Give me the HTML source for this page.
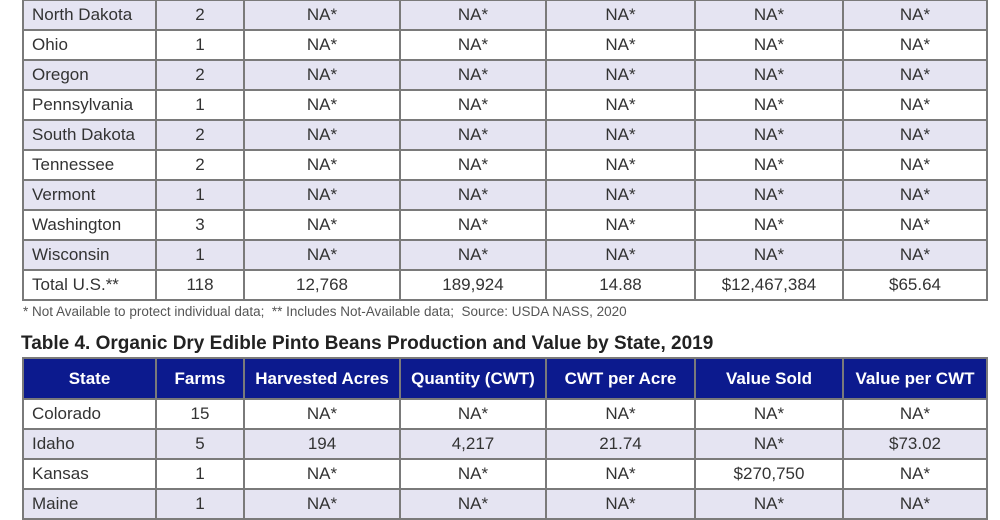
<!DOCTYPE html><html><head><style>
body{margin:0;width:1000px;height:500px;overflow:hidden;background:#fff;font-family:"Liberation Sans",sans-serif;color:#333;position:relative}
table{position:absolute;left:22px;border-collapse:collapse;table-layout:fixed;width:964px}
td,th{border:2px solid #7a7a7a;height:28px;padding:0;text-align:center;font-size:17px;white-space:nowrap;overflow:hidden}
td:first-child{text-align:left;padding-left:8px}
tr.a td{background:#e5e4f2}
th{background:#0c1a8e;color:#fff;font-weight:bold;height:39px;font-size:17px}
.fn{position:absolute;left:23px;top:304px;font-size:13.5px;color:#555}
.tt{position:absolute;left:21px;top:333px;font-size:19px;font-weight:bold;color:#222}
</style></head><body>
<table style="top:-1px">
<colgroup><col style="width:133px"><col style="width:88px"><col style="width:156px"><col style="width:146px"><col style="width:149px"><col style="width:148px"><col style="width:144px"></colgroup>
<tr class="a"><td>North Dakota</td><td>2</td><td>NA*</td><td>NA*</td><td>NA*</td><td>NA*</td><td>NA*</td></tr>
<tr><td>Ohio</td><td>1</td><td>NA*</td><td>NA*</td><td>NA*</td><td>NA*</td><td>NA*</td></tr>
<tr class="a"><td>Oregon</td><td>2</td><td>NA*</td><td>NA*</td><td>NA*</td><td>NA*</td><td>NA*</td></tr>
<tr><td>Pennsylvania</td><td>1</td><td>NA*</td><td>NA*</td><td>NA*</td><td>NA*</td><td>NA*</td></tr>
<tr class="a"><td>South Dakota</td><td>2</td><td>NA*</td><td>NA*</td><td>NA*</td><td>NA*</td><td>NA*</td></tr>
<tr><td>Tennessee</td><td>2</td><td>NA*</td><td>NA*</td><td>NA*</td><td>NA*</td><td>NA*</td></tr>
<tr class="a"><td>Vermont</td><td>1</td><td>NA*</td><td>NA*</td><td>NA*</td><td>NA*</td><td>NA*</td></tr>
<tr><td>Washington</td><td>3</td><td>NA*</td><td>NA*</td><td>NA*</td><td>NA*</td><td>NA*</td></tr>
<tr class="a"><td>Wisconsin</td><td>1</td><td>NA*</td><td>NA*</td><td>NA*</td><td>NA*</td><td>NA*</td></tr>
<tr><td>Total U.S.**</td><td>118</td><td>12,768</td><td>189,924</td><td>14.88</td><td>$12,467,384</td><td>$65.64</td></tr>
</table>
<div class="fn">* Not Available to protect individual data;&nbsp; ** Includes Not-Available data;&nbsp; Source: USDA NASS, 2020</div>
<div class="tt">Table 4. Organic Dry Edible Pinto Beans Production and Value by State, 2019</div>
<table style="top:357px">
<colgroup><col style="width:133px"><col style="width:88px"><col style="width:156px"><col style="width:146px"><col style="width:149px"><col style="width:148px"><col style="width:144px"></colgroup>
<tr><th>State</th><th>Farms</th><th>Harvested Acres</th><th>Quantity (CWT)</th><th>CWT per Acre</th><th>Value Sold</th><th>Value per CWT</th></tr>
<tr><td>Colorado</td><td>15</td><td>NA*</td><td>NA*</td><td>NA*</td><td>NA*</td><td>NA*</td></tr>
<tr class="a"><td>Idaho</td><td>5</td><td>194</td><td>4,217</td><td>21.74</td><td>NA*</td><td>$73.02</td></tr>
<tr><td>Kansas</td><td>1</td><td>NA*</td><td>NA*</td><td>NA*</td><td>$270,750</td><td>NA*</td></tr>
<tr class="a"><td>Maine</td><td>1</td><td>NA*</td><td>NA*</td><td>NA*</td><td>NA*</td><td>NA*</td></tr>
</table>
</body></html>
